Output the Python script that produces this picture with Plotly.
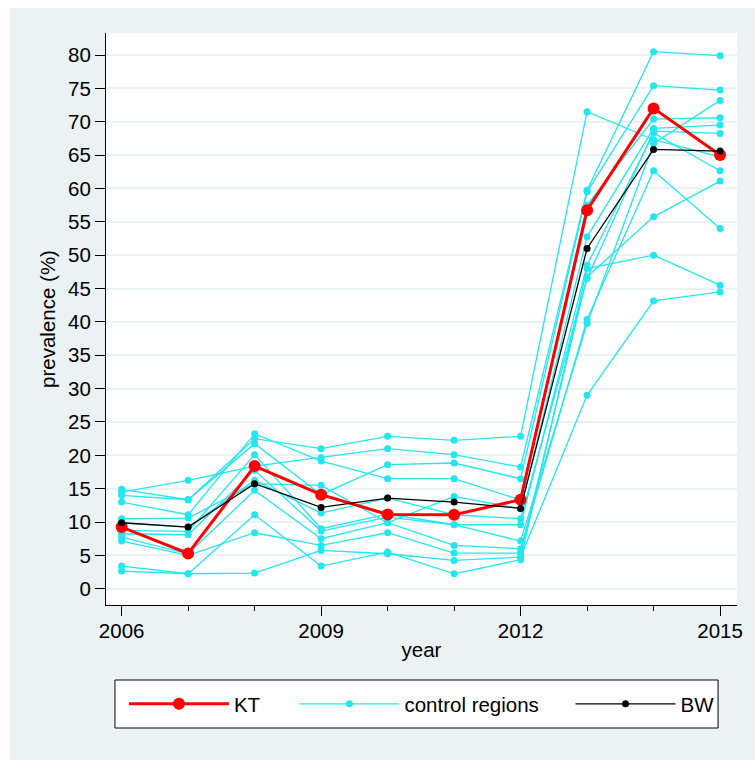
import plotly.graph_objects as go

years = [2006, 2007, 2008, 2009, 2010, 2011, 2012, 2013, 2014, 2015]

kt = [9.25, 5.3, 18.4, 14.1, 11.15, 11.1, 13.35, 56.75, 72.0, 65.0]
bw = [9.9, 9.25, 15.75, 12.2, 13.6, 13.0, 12.05, 51.0, 65.85, 65.6]

c01 = [2.65, 2.25, 2.35, 5.75, 5.25, 4.25, 4.75, 29.0, 43.15, 44.5]
c02 = [3.4, 2.25, 11.1, 3.4, 5.5, 2.25, 4.35, 48.0, 50.0, 45.5]
c03 = [7.15, 5.0, 8.4, 6.5, 8.4, 5.35, 5.35, 46.75, 55.75, 61.1]
c04 = [7.75, 5.25, 14.75, 7.5, 9.9, 6.5, 6.0, 40.35, 62.65, 54.0]
c05 = [8.25, 8.1, 17.75, 8.65, 10.75, 9.6, 7.15, 39.75, 66.75, 73.2]
c06 = [8.75, 8.6, 20.1, 9.0, 11.2, 9.6, 9.6, 48.5, 68.3, 62.65]
c07 = [9.9, 9.25, 16.25, 11.35, 13.6, 11.1, 10.5, 46.5, 68.6, 68.25]
c08 = [10.5, 10.6, 15.75, 15.5, 9.9, 13.85, 12.0, 52.75, 69.0, 69.5]
c09 = [13.0, 11.1, 23.25, 19.15, 16.5, 16.5, 13.3, 57.5, 70.4, 70.6]
c10 = [14.0, 13.35, 21.75, 14.1, 18.6, 18.85, 16.5, 59.5, 75.4, 74.75]
c11 = [14.5, 16.25, 18.4, 19.65, 21.0, 20.1, 18.25, 59.75, 80.5, 79.9]
c12 = [14.9, 13.35, 22.5, 21.0, 22.85, 22.25, 22.85, 71.5, 67.3, 64.75]
controls = [c01, c02, c03, c04, c05, c06, c07, c08, c09, c10, c11, c12]

y_ticks = list(range(0, 85, 5))
x_major = [2006, 2009, 2012, 2015]

CYAN = "#22E6F0"
BG = "#EAF2F3"
FONT = "Liberation Sans, Arial, Helvetica, sans-serif"
FS = 20.5

# plot area in pixels: x 106..739, y 33..605
PL, PR, PT, PB = 106, 739, 33, 605
def px(x):
    return (x - PL) / (PR - PL)
def py(y):
    return (PB - y) / (PB - PT)

fig = go.Figure()

for i, c in enumerate(controls):
    fig.add_trace(go.Scatter(
        x=years, y=c, mode="lines+markers",
        line=dict(color=CYAN, width=1.3),
        marker=dict(color=CYAN, size=7),
        name="control regions", legendgroup="ctrl",
        showlegend=(i == 0), legend="legend2",
    ))

fig.add_trace(go.Scatter(
    x=years, y=kt, mode="lines+markers",
    line=dict(color="#FF0000", width=3),
    marker=dict(color="#FF0000", size=12),
    name="KT", legend="legend",
))

fig.add_trace(go.Scatter(
    x=years, y=bw, mode="lines+markers",
    line=dict(color="#000000", width=1.3),
    marker=dict(color="#000000", size=7),
    name="BW", legend="legend3",
))

leg_common = dict(
    orientation="h", yanchor="middle", xanchor="left",
    bgcolor="rgba(0,0,0,0)", borderwidth=0,
    font=dict(family=FONT, size=FS, color="black"), itemwidth=100,
)
ymid = py(704)

fig.update_layout(
    width=755, height=760,
    margin=dict(l=PL, r=755 - PR, t=PT, b=760 - PB),
    paper_bgcolor=BG, plot_bgcolor="white",
    font=dict(family=FONT, size=FS, color="black"),
    showlegend=True,
    legend=dict(x=px(124), y=ymid, **leg_common),
    legend2=dict(x=px(295), y=ymid, **leg_common),
    legend3=dict(x=px(572), y=ymid, **leg_common),
    xaxis=dict(
        range=[2005.765, 2015.255],
        tickvals=x_major, ticktext=[str(v) for v in x_major],
        tickfont=dict(family=FONT, size=FS, color="black"),
        ticks="outside", ticklen=10, tickwidth=1, tickcolor="black",
        ticklabelstandoff=-3,
        minor=dict(tickvals=years, ticks="outside", ticklen=5, tickwidth=1, tickcolor="black"),
        showline=True, linecolor="black", linewidth=1,
        showgrid=False, zeroline=False,
        title=dict(text="year", standoff=2, font=dict(family=FONT, size=FS, color="black")),
    ),
    yaxis=dict(
        range=[-2.43, 83.3],
        tickvals=y_ticks, ticktext=[str(v) for v in y_ticks],
        tickfont=dict(family=FONT, size=FS, color="black"),
        ticks="outside", ticklen=10, tickwidth=1, tickcolor="black",
        showline=True, linecolor="black", linewidth=1,
        showgrid=True, gridcolor=BG, gridwidth=2,
        zeroline=False,
        title=dict(text="prevalence (%)", standoff=6, font=dict(family=FONT, size=FS, color="black")),
    ),
    shapes=[
        dict(type="rect", xref="paper", yref="paper", layer="below",
             x0=-0.2, x1=1.1, y0=py(8), y1=1.2,
             fillcolor="white", line=dict(width=0)),
        dict(type="rect", xref="paper", yref="paper", layer="below",
             x0=-0.2, x1=px(9), y0=-0.4, y1=1.2,
             fillcolor="white", line=dict(width=0)),
        dict(type="rect", xref="paper", yref="paper", layer="below",
             x0=px(115), x1=px(720), y0=py(728), y1=py(680),
             fillcolor="white", line=dict(color="black", width=1)),
    ],
)

fig.write_html("out.html")
